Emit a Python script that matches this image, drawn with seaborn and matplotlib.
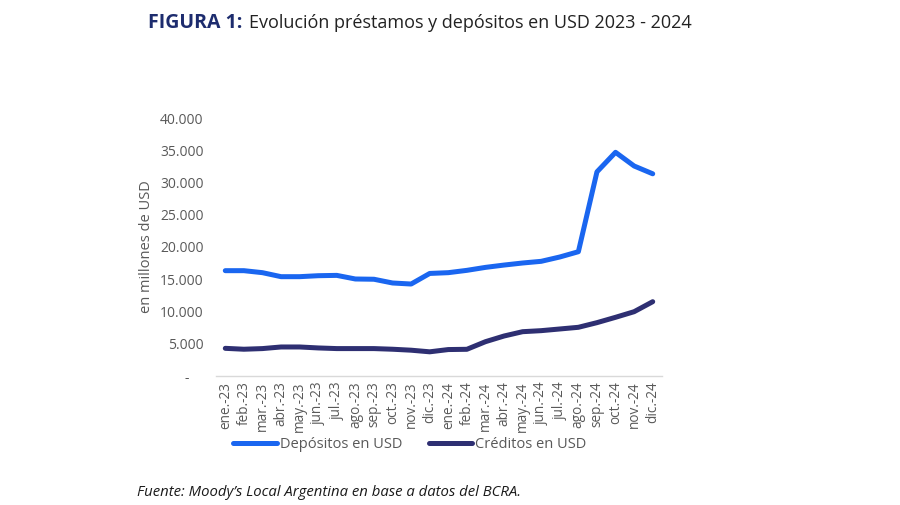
import matplotlib
matplotlib.use("Agg")
import matplotlib.pyplot as plt
import seaborn as sns
import pandas as pd
import numpy as np
from matplotlib.lines import Line2D
from matplotlib.ticker import FuncFormatter, FixedLocator

months = ["ene.-23", "feb.-23", "mar.-23", "abr.-23", "may.-23", "jun.-23", "jul.-23",
          "ago.-23", "sep.-23", "oct.-23", "nov.-23", "dic.-23",
          "ene.-24", "feb.-24", "mar.-24", "abr.-24", "may.-24", "jun.-24", "jul.-24",
          "ago.-24", "sep.-24", "oct.-24", "nov.-24", "dic.-24"]
depositos = [16330, 16330, 16020, 15400, 15400, 15550, 15600, 15040, 15000, 14420, 14260, 15900,
             16020, 16380, 16840, 17200, 17520, 17780, 18450, 19270, 31650, 34680, 32560, 31350]
creditos = [4290, 4150, 4250, 4500, 4500, 4350, 4250, 4250, 4250, 4150, 4000, 3750,
            4100, 4140, 5320, 6200, 6870, 7030, 7290, 7550, 8270, 9100, 9970, 11520]
series_names = ["Depósitos en USD", "Créditos en USD"]
colors = ["#1a66f0", "#2e2f72"]

sns.set_style("white")
plt.rcParams["font.family"] = ["Open Sans", "DejaVu Sans"]

df = pd.DataFrame({
    "mes": list(range(len(months))) * 2,
    "valor": depositos + creditos,
    "serie": [series_names[0]] * len(months) + [series_names[1]] * len(months),
})

fig = plt.figure(figsize=(9, 5.05), dpi=100)
ax = fig.add_axes([216 / 900, 1 - 376 / 505, (662 - 216) / 900, (376 - 118) / 505])

sns.lineplot(data=df, x="mes", y="valor", hue="serie", palette=colors,
             linewidth=3.6, ax=ax, legend=False, solid_capstyle="round")

ax.set_xlim(-0.5, len(months) - 0.5)
ax.set_ylim(0, 40000)
ax.set_yticks(np.arange(0, 40001, 5000))
ax.yaxis.set_major_formatter(FuncFormatter(
    lambda v, p: "-    " if v == 0 else f"{int(v):,}".replace(",", ".")))
ax.set_xticks(range(len(months)))
ax.set_xticklabels(months, rotation=90)
ax.xaxis.set_minor_locator(FixedLocator(np.arange(-0.5, len(months), 1.0)))
ax.tick_params(axis="x", which="major", length=0, pad=4, labelsize=9.8, labelcolor="#595959")
ax.tick_params(axis="x", which="minor", length=5, width=1, color="#d9d9d9", direction="out")
ax.tick_params(axis="y", length=0, pad=9, labelsize=10, labelcolor="#595959")
ax.set_xlabel("")
ax.set_ylabel("en millones de USD", fontsize=10.5, color="#595959")
ax.yaxis.set_label_coords(-0.138, 0.5)

for s in ["top", "right", "left"]:
    ax.spines[s].set_visible(False)
ax.spines["bottom"].set_color("#d9d9d9")
ax.spines["bottom"].set_linewidth(1)
ax.grid(False)

handles = [Line2D([0], [0], color=c, lw=3.6) for c in colors]
fig.legend(handles, series_names, loc="center", bbox_to_anchor=(410 / 900, 1 - 445 / 505),
           ncol=2, frameon=False, fontsize=10.5, handlelength=3.0, handletextpad=0.2,
           columnspacing=1.8, labelcolor="#595959")

fig.text(148 / 900, 1 - 23 / 505, "FIGURA 1:", fontsize=14, fontweight="bold",
         color="#1d2c6e", va="center", ha="left")
fig.text(249 / 900, 1 - 23 / 505, "Evolución préstamos y depósitos en USD 2023 - 2024",
         fontsize=13, color="#222222", va="center", ha="left")
fig.text(137 / 900, 1 - 492 / 505, "Fuente: Moody’s Local Argentina en base a datos del BCRA.",
         fontsize=10.7, style="italic", color="#1a1a1a", va="center", ha="left")

fig.savefig("out.png", dpi=100)
